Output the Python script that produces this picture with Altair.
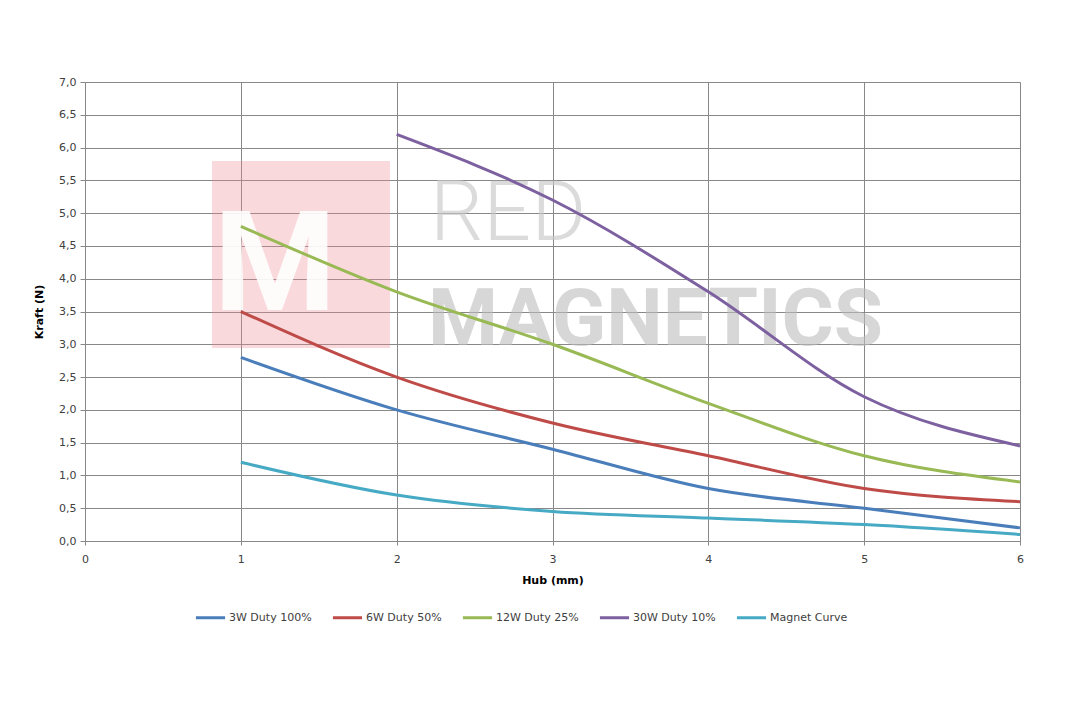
import altair as alt
import pandas as pd

hub = [1, 2, 3, 4, 5, 6]
s3w = [2.8, 2.0, 1.4, 0.8, 0.5, 0.2]
s6w = [3.5, 2.5, 1.8, 1.3, 0.8, 0.6]
s12w = [4.8, 3.8, 3.0, 2.1, 1.3, 0.9]
hub30 = [2, 3, 4, 5, 6]
s30w = [6.2, 5.2, 3.8, 2.2, 1.45]
magnet = [1.2, 0.7, 0.45, 0.35, 0.25, 0.1]

series = ["3W Duty 100%", "6W Duty 50%", "12W Duty 25%", "30W Duty 10%", "Magnet Curve"]
colors = ["#4A7EBB", "#BE4B48", "#98B954", "#7D60A0", "#46AAC5"]

rows = []
for name, xs, ys in [
    (series[0], hub, s3w),
    (series[1], hub, s6w),
    (series[2], hub, s12w),
    (series[3], hub30, s30w),
    (series[4], hub, magnet),
]:
    for x, y in zip(xs, ys):
        rows.append({"Hub": x, "Kraft": y, "Serie": name})
df = pd.DataFrame(rows)

FONT = "DejaVu Sans"
W, H = 935, 459

one = pd.DataFrame({"a": [0]})

# watermark (decoration)
wm_rect = alt.Chart(one).mark_rect(color="#F08C96", opacity=0.33).encode(
    x=alt.value(127), x2=alt.value(305), y=alt.value(79), y2=alt.value(266)
)
wm_m = alt.Chart(one).mark_text(
    text="M", font="Roboto", fontWeight="bold", fontSize=140,
    color="white", opacity=0.9, align="center", baseline="alphabetic"
).encode(x=alt.value(190), y=alt.value(228))
wm_red = alt.Chart(one).mark_text(
    text="RED", font="Roboto", fontWeight=300, fontSize=84,
    color="#C8C8C8", opacity=0.65, align="left", baseline="alphabetic"
).encode(x=alt.value(345), y=alt.value(158))
wm_mag = alt.Chart(one).mark_text(
    text="MAGNETICS", font="Roboto", fontWeight="bold", fontSize=80,
    color="#BDBDBD", opacity=0.6, align="left", baseline="alphabetic"
).encode(x=alt.value(343), y=alt.value(263))

lines = alt.Chart(df).mark_line(strokeWidth=3, interpolate="monotone").encode(
    x=alt.X("Hub:Q", scale=alt.Scale(domain=[0, 6], nice=False),
            axis=alt.Axis(title="Hub (mm)", values=[0, 1, 2, 3, 4, 5, 6], grid=True,
                          tickSize=4, labelPadding=8, titlePadding=10, labelFlush=False)),
    y=alt.Y("Kraft:Q", scale=alt.Scale(domain=[0, 7], nice=False),
            axis=alt.Axis(title="Kraft (N)", values=[i * 0.5 for i in range(15)],
                          labelExpr="replace(format(datum.value, '.1f'), '.', ',')",
                          tickSize=5, labelPadding=4, titlePadding=14, labelFlush=False)),
    color=alt.Color("Serie:N", sort=series,
                    scale=alt.Scale(domain=series, range=colors),
                    legend=alt.Legend(title=None, orient="none", direction="horizontal",
                                      legendX=109, legendY=519, symbolType="stroke",
                                      symbolStrokeWidth=3, symbolSize=850,
                                      symbolOffset=0, labelOffset=2, columnPadding=14,
                                      labelFont=FONT, labelFontSize=11, labelColor="#404040")),
    detail="Serie:N",
)

chart = alt.layer(wm_rect, wm_m, wm_red, wm_mag, lines).properties(
    width=W, height=H,
    autosize=alt.AutoSizeParams(type="none"),
    padding={"left": 77, "top": 74, "right": 50, "bottom": 150},
).configure_view(stroke=None).configure_axis(
    gridColor="#888888", gridWidth=1, domainColor="#888888", tickColor="#888888",
    labelFont=FONT, labelFontSize=11, labelColor="#404040",
    titleFont=FONT, titleFontSize=11, titleFontWeight="bold", titleColor="#000000",
)

chart.save("out.html", embed_options={"renderer": "svg", "actions": False})
